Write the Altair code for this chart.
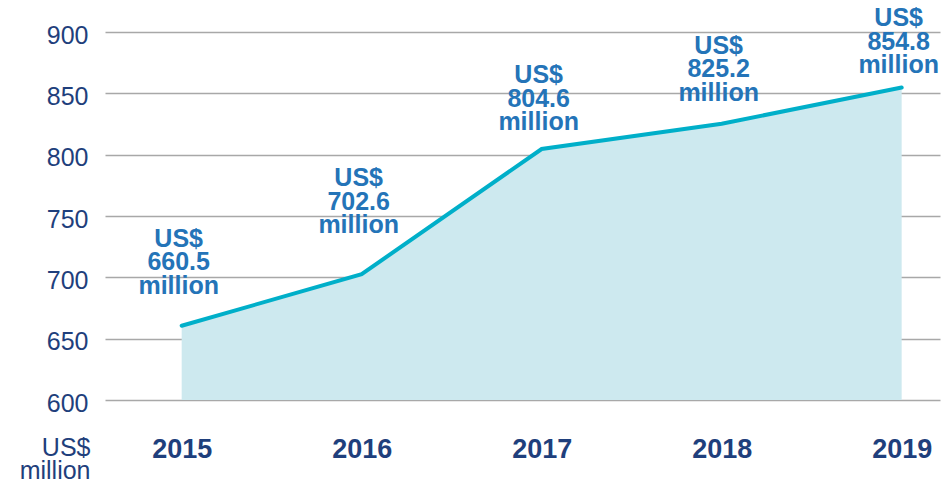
import altair as alt
import pandas as pd

years = [2015, 2016, 2017, 2018, 2019]
values = [660.5, 702.6, 804.6, 825.2, 854.8]
value_text = ["660.5", "702.6", "804.6", "825.2", "854.8"]
y_ticks = [600, 650, 700, 750, 800, 850, 900]

# layout only: how far (px) each callout sits above its point
label_lift_px = [27, 36, 14, 18, 9]

W, H = 835, 368
Y_MIN, Y_MAX = 600, 900

df = pd.DataFrame({
    "year": years,
    "value": values,
    "txt": value_text,
    "lift": label_lift_px,
})

NAVY = "#1f3f7c"
LABEL_BLUE = "#2474b8"
LINE = "#00afc9"
FILL = "#cde9ef"
GRID = "#a8a8a8"
FONT = "Liberation Sans"

xscale = alt.Scale(domain=[2014.574, 2019.213], nice=False, zero=False)
yscale = alt.Scale(domain=[Y_MIN, Y_MAX], nice=False, zero=False)

xaxis = alt.Axis(values=years, format="d", title=None, grid=False, ticks=False,
                 domain=False, labelFontSize=27, labelFontWeight="bold",
                 labelColor=NAVY, labelFont=FONT, labelPadding=36)
yaxis = alt.Axis(values=y_ticks, grid=True, gridColor=GRID, gridWidth=1.5,
                 ticks=False, domain=False, labelFontSize=25, labelColor=NAVY,
                 labelFont=FONT, labelPadding=17, labelOffset=3,
                 title=["US$", "million"], titleAngle=0, titleAlign="right",
                 titleBaseline="alphabetic", titleX=-15, titleY=423,
                 titleFontSize=25, titleFontWeight="normal", titleColor=NAVY,
                 titleFont=FONT, titleLineHeight=23)

base = alt.Chart(df)

area = base.mark_area(color=FILL, opacity=1).encode(
    x=alt.X("year:Q", scale=xscale, axis=xaxis),
    y=alt.Y("value:Q", scale=yscale, axis=yaxis),
    y2=alt.datum(Y_MIN),
)

line = base.mark_line(color=LINE, strokeWidth=4, strokeCap="round").encode(
    x=alt.X("year:Q", scale=xscale, axis=xaxis),
    y=alt.Y("value:Q", scale=yscale, axis=yaxis),
)

labels = base.transform_calculate(
    label_y=f"datum.value + datum.lift * {(Y_MAX - Y_MIN) / H}",
    lines="['US$', datum.txt, 'million']",
).mark_text(
    baseline="bottom", align="center", fontSize=25, fontWeight="bold",
    font=FONT, color=LABEL_BLUE, lineHeight=23.5, dx=-3, dy=-47,
).encode(
    x=alt.X("year:Q", scale=xscale, axis=xaxis),
    y=alt.Y("label_y:Q", scale=yscale, axis=yaxis),
    text="lines:N",
)

chart = alt.layer(area, line, labels).properties(
    width=W, height=H,
    autosize=alt.AutoSizeParams(type="none"),
    padding={"left": 105, "top": 32, "right": 2, "bottom": 85},
).configure(background="white").configure_view(
    stroke=None, strokeWidth=0
).configure_axis(domain=False, ticks=False)

chart.save("out.html", embed_options={"renderer": "svg", "actions": False})
